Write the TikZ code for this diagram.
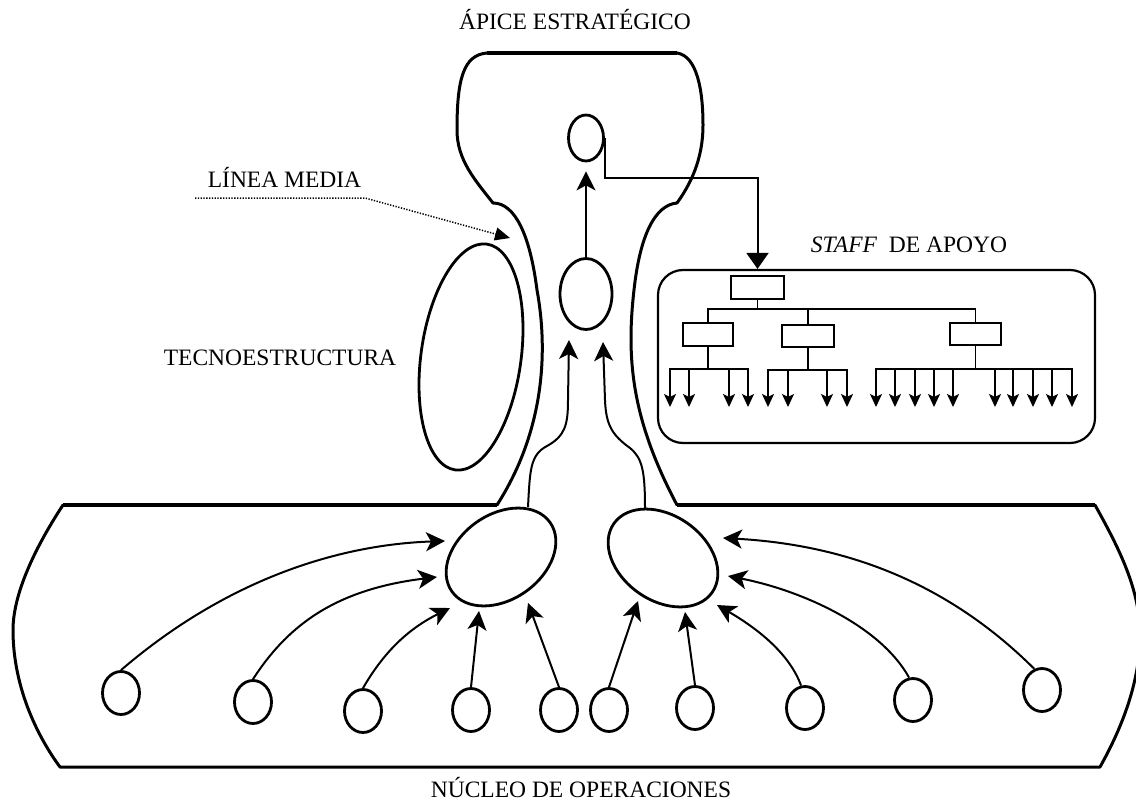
\documentclass[tikz,border=0pt]{standalone}
\usepackage{fontspec}
\setmainfont{Liberation Serif}
\usetikzlibrary{arrows.meta,shapes.geometric}
\begin{document}
\begin{tikzpicture}[x=1pt,y=-1pt,
  outl/.style={line width=3pt, line join=round, line cap=round},
  thk/.style={line width=4.5pt},
  oval/.style={draw, ellipse, line width=2.8pt, inner sep=0pt},
  smallo/.style={oval, minimum width=37pt, minimum height=43pt},
  flow/.style={line width=2pt, -{Stealth[length=19pt,width=19pt,inset=5pt]}},
  orgbox/.style={draw, rectangle, line width=1.8pt, inner sep=0pt},
  orgl/.style={line width=1.8pt},
  leaf/.style={line width=1.8pt, -{Stealth[length=13pt,width=12pt,inset=3pt]}},
  lbl/.style={font=\fontsize{23.5}{28}\selectfont, inner sep=0pt, anchor=base}]
\useasboundingbox (0,0) rectangle (1136,800);

% apex outline
\draw[outl] (493,203) .. controls (475,180) and (457,160) .. (457,130) .. controls (457,80) and (463,55) .. (487,53) -- (677,53) .. controls (697,56) and (703,90) .. (703,125) .. controls (703,160) and (690,185) .. (677,203);
\draw[thk] (487,53) -- (677,53);
% neck
\draw[outl] (493,203) .. controls (515,203) and (530,235) .. (537,290) .. controls (548,350) and (545,430) .. (497,505);
\draw[outl] (677,203) .. controls (655,205) and (640,235) .. (634,290) .. controls (626,360) and (632,420) .. (677,505);
% operating core
\draw[outl] (63,505) .. controls (40,540) and (13,590) .. (13,630) .. controls (13,690) and (40,740) .. (60,767) -- (1100,767) .. controls (1115,740) and (1140,690) .. (1140,635) .. controls (1140,590) and (1120,550) .. (1095,505);
\draw[thk] (63,505) -- (497,505);
\draw[thk] (677,505) -- (1095,505);

% ovals
\node[oval, minimum width=35pt, minimum height=46pt] (A) at (586,138) {};
\node[oval, minimum width=52pt, minimum height=71pt] (M) at (586,294) {};
\node[oval, minimum width=100pt, minimum height=228pt, rotate=-8] (TE) at (471,357) {};
\node[oval, minimum width=120pt, minimum height=85pt, rotate=35] (L) at (501,557) {};
\node[oval, minimum width=120pt, minimum height=85pt, rotate=-35] (R) at (663,558) {};

\node[smallo] (c1) at (121,693) {};
\node[smallo] (c2) at (253,702) {};
\node[smallo] (c3) at (363,711) {};
\node[smallo] (c4) at (471,710) {};
\node[smallo] (c5) at (559,710) {};
\node[smallo] (c6) at (609,710) {};
\node[smallo] (c7) at (695,708) {};
\node[smallo] (c8) at (805,708) {};
\node[smallo] (c9) at (913,700) {};
\node[smallo] (c10) at (1042,690) {};

% tip coordinates
\coordinate (t1) at (445,541);
\coordinate (t2) at (437,577);
\coordinate (t3) at (450,608);
\coordinate (t4) at (479,611);
\coordinate (t5) at (528,603);
\coordinate (t6) at (638,601);
\coordinate (t7) at (685,612);
\coordinate (t8) at (717,605);
\coordinate (t9) at (728,576);
\coordinate (t10) at (723,538);
\coordinate (nL) at (528,507);
\coordinate (tNL) at (569,340);
\coordinate (nR) at (645,508);
\coordinate (tNR) at (603,342);

\draw[flow] (c1.north) .. controls (220,585) and (330,545) .. (t1);
\draw[flow] (c2.north) .. controls (285,630) and (330,590) .. (t2);
\draw[flow] (c3.north) .. controls (385,650) and (410,628) .. (t3);
\draw[flow] (c4.north) -- (t4);
\draw[flow] (c5.north) -- (t5);
\draw[flow] (c6.north) -- (t6);
\draw[flow] (c7.north) -- (t7);
\draw[flow] (c8.100) .. controls (790,655) and (760,630) .. (t8);
\draw[flow] (c9.100) .. controls (880,625) and (800,590) .. (t9);
\draw[flow] (c10.110) .. controls (950,585) and (850,545) .. (t10);

\draw[flow] (nL) .. controls (530,470) and (530,455) .. (547,446) .. controls (565,436) and (568,425) .. (568,400) -- (tNL);
\draw[flow] (nR) .. controls (645,470) and (642,458) .. (630,448) .. controls (612,435) and (606,425) .. (605,400) -- (tNR);
\draw[flow, shorten >=9pt] (M.north) -- (A.south);

% staff
\node[draw, line width=2.2pt, rounded corners=25pt, minimum width=437pt, minimum height=173pt, inner sep=0pt] (S) at (876.5,356.5) {};
\node[orgbox, minimum width=53pt, minimum height=23pt] (T) at (757.5,287.5) {};
\node[orgbox, minimum width=50pt, minimum height=23pt] (B1) at (708,334.5) {};
\node[orgbox, minimum width=52pt, minimum height=22pt] (B2) at (808,336) {};
\node[orgbox, minimum width=51pt, minimum height=22pt] (B3) at (975.5,334) {};
\coordinate (bar) at (757.5,309);
\draw[orgl] (T.south) -- (bar);
\draw[orgl] (B1.north) |- (bar) -| (B3.north);
\draw[orgl] (B2.north) -- (B2.north |- bar);
\draw[orgl] (B1.south) -- (B1.south |- 0,369);
\draw[orgl] (B2.south) -- (B2.south |- 0,370);
\draw[orgl] (B3.south) -- (B3.south |- 0,369);
\draw[orgl] (669,369) -- (749,369);
\draw[orgl] (767,370) -- (848,370);
\draw[orgl] (875,369) -- (1073,369);
\foreach \x in {670,689,729,748} \draw[leaf] (\x,369) -- (\x,407);
\foreach \x in {768,788,827,847} \draw[leaf] (\x,370) -- (\x,407);
\foreach \x in {876,895,915,934,953,995,1013,1033,1052,1072} \draw[leaf] (\x,369) -- (\x,407);

\draw[line width=2pt, -{Triangle[length=16pt,width=22pt]}] (A.east) -- (A.east |- 0,178) -| (T.north |- S.north);

% linea media
\coordinate (lm0) at (195,198);
\coordinate (lm1) at (365,198);
\coordinate (lm2) at (510,238);
\draw[line width=1.5pt, dash pattern=on 1.3pt off 1.5pt, -{Triangle[length=15pt,width=13pt]}] (lm0) -- (lm1) -- (lm2);

% labels
\node[lbl] (lapex) at (575,30) {ÁPICE ESTRATÉGICO};
\node[lbl] (lmed) at (284.5,187) {LÍNEA MEDIA};
\node[lbl] (ltec) at (280,365) {TECNOESTRUCTURA};
\node[lbl] (lstaff) at (909,252) {\textit{STAFF}\ \ DE APOYO};
\node[lbl] (lnuc) at (581,797) {NÚCLEO DE OPERACIONES};
\end{tikzpicture}
\end{document}
